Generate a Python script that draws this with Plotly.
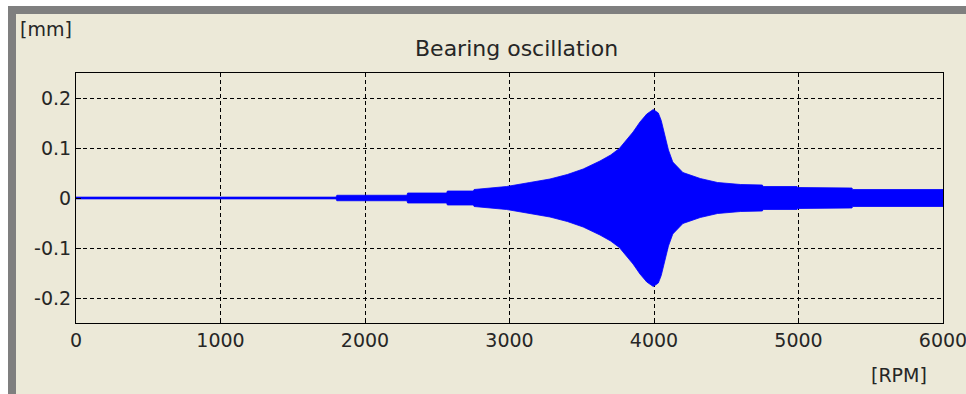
import plotly.graph_objects as go

# Envelope of the bearing oscillation
rpm = [0, 1800, 1805, 2290, 2295, 2565, 2570, 2750, 2755, 2980, 3140, 3280, 3400, 3510,
       3626, 3700, 3760, 3800, 3855, 3903, 3950, 3995, 4030, 4050, 4065, 4080, 4100, 4130,
       4200, 4320, 4440, 4600, 4750, 4755, 4990, 4995, 5370, 5375, 6000]
amp = [0.0018, 0.0018, 0.0055, 0.0055, 0.010, 0.010, 0.014, 0.014, 0.017, 0.023, 0.031, 0.038, 0.047, 0.058,
       0.074, 0.086, 0.099, 0.112, 0.132, 0.152, 0.168, 0.177, 0.170, 0.155, 0.138, 0.118, 0.096, 0.072,
       0.051, 0.039, 0.031, 0.027, 0.026, 0.023, 0.023, 0.021, 0.020, 0.017, 0.017]

x_ticks = [0, 1000, 2000, 3000, 4000, 5000, 6000]
y_ticks = [-0.2, -0.1, 0, 0.1, 0.2]
y_tick_text = ["-0.2", "-0.1", "0", "0.1", "0.2"]

W, H = 966, 394
ML, MR, MT, MB = 76, 23, 73, 71
PW, PH = W - ML - MR, H - MT - MB

def px_x(p):
    return (p - ML) / PW

def px_y(p):
    return 1 - (p - MT) / PH

FONT = "DejaVu Sans"
TXT = "#262626"

fig = go.Figure()
fig.add_trace(go.Scatter(
    x=rpm + rpm[::-1],
    y=amp + [-a for a in amp[::-1]],
    fill="toself", fillcolor="#0000FF",
    line=dict(color="#0000FF", width=0.8),
    mode="lines", hoverinfo="skip", showlegend=False,
))

shapes = [
    dict(type="rect", xref="paper", yref="paper", layer="below",
         x0=px_x(0), x1=px_x(W), y0=px_y(0), y1=px_y(H),
         fillcolor="white", line=dict(width=0)),
    dict(type="rect", xref="paper", yref="paper", layer="below",
         x0=px_x(8), x1=px_x(W), y0=px_y(6), y1=px_y(H),
         fillcolor="#7F7F7F", line=dict(width=0)),
    dict(type="rect", xref="paper", yref="paper", layer="below",
         x0=px_x(16), x1=px_x(W), y0=px_y(14), y1=px_y(H),
         fillcolor="#ECE9D8", line=dict(width=0)),
]

annotations = [
    dict(text="Bearing oscillation", xref="paper", yref="paper",
         x=px_x(516), y=px_y(49), xanchor="center", yanchor="middle",
         showarrow=False, font=dict(family=FONT, size=22, color=TXT)),
    dict(text="[mm]", xref="paper", yref="paper",
         x=px_x(18), y=px_y(29), xanchor="left", yanchor="middle",
         showarrow=False, font=dict(family=FONT, size=19, color=TXT)),
    dict(text="[RPM]", xref="paper", yref="paper",
         x=px_x(899), y=px_y(375), xanchor="center", yanchor="middle",
         showarrow=False, font=dict(family=FONT, size=19, color=TXT)),
]

fig.update_layout(
    width=W, height=H, autosize=False,
    margin=dict(l=ML, r=MR, t=MT, b=MB, pad=0, autoexpand=False),
    paper_bgcolor="#ECE9D8", plot_bgcolor="white",
    shapes=shapes, annotations=annotations,
    font=dict(family=FONT, size=19, color=TXT),
    showlegend=False,
)
fig.update_xaxes(
    range=[0, 6000], tickvals=x_ticks, ticktext=[str(t) for t in x_ticks],
    showgrid=True, gridcolor="black", gridwidth=1, griddash="4px,3px",
    showline=True, linecolor="black", linewidth=1, mirror=True,
    ticks="inside", ticklen=5, tickcolor="black", zeroline=False,
    ticklabeloverflow="allow", automargin=False,
    tickfont=dict(family=FONT, size=19, color=TXT),
)
fig.update_yaxes(
    range=[-0.25, 0.25], tickvals=y_ticks, ticktext=y_tick_text,
    showgrid=True, gridcolor="black", gridwidth=1, griddash="4px,3px",
    showline=True, linecolor="black", linewidth=1, mirror=True,
    ticks="inside", ticklen=5, tickcolor="black", zeroline=False,
    ticklabeloverflow="allow", automargin=False,
    tickfont=dict(family=FONT, size=19, color=TXT),
)

fig.write_html(
    "out.html",
    config={"displayModeBar": False},
    post_script="document.body.style.margin='0';document.body.style.overflow='hidden';",
)
